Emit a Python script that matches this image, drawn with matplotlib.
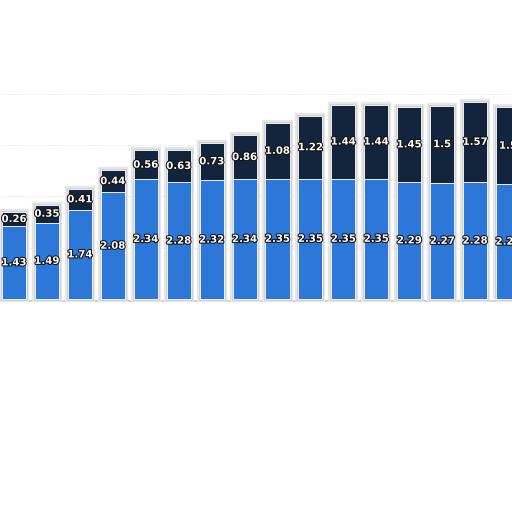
import matplotlib
matplotlib.use('Agg')
from matplotlib import pyplot as plt
import matplotlib.patheffects as pe

# values, left to right
lower = [1.43, 1.49, 1.74, 2.08, 2.34, 2.28, 2.32, 2.34, 2.35, 2.35,
         2.35, 2.35, 2.29, 2.27, 2.28, 2.24]
upper = [0.26, 0.35, 0.41, 0.44, 0.56, 0.63, 0.73, 0.86, 1.08, 1.22,
         1.44, 1.44, 1.45, 1.5, 1.57, 1.5]

blue = '#2d77d9'
navy = '#12253c'

fig = plt.figure(figsize=(5.12, 5.12), dpi=100)
ax = fig.add_axes([0, 0, 1, 1])

x = list(range(len(lower)))
totals = [a + b for a, b in zip(lower, upper)]
w = 0.73

# soft grey shadow around each bar (two layers)
ax.bar(x, totals, width=w, color='none', edgecolor='#e6e6e6', linewidth=4.5, zorder=1)
ax.bar(x, totals, width=w, color='none', edgecolor='#cfcfcf', linewidth=2.0, zorder=1)
ax.bar(x, lower, width=w, color=blue, edgecolor='white', linewidth=0.6, zorder=2)
ax.bar(x, upper, width=w, bottom=lower, color=navy, edgecolor='white', linewidth=0.6, zorder=2)

for v in [1, 2, 3, 4]:
    ax.axhline(v, color='#d4d4d4', linestyle=(0, (1, 2)), linewidth=0.6, zorder=0)
ax.axhline(-0.03, color='#c8c8c8', linewidth=1.2, zorder=0)

stroke = [pe.withStroke(linewidth=1.5, foreground='#111111')]
for i in x:
    ax.text(i, lower[i] / 2, str(lower[i]), ha='center', va='center', color='white',
            fontsize=7.3, fontweight='bold', path_effects=stroke, zorder=3)
    ax.text(i, lower[i] + upper[i] / 2, str(upper[i]), ha='center', va='center', color='white',
            fontsize=7.3, fontweight='bold', path_effects=stroke, zorder=3)

ax.set_xlim(-0.425, 15.12)
ax.set_ylim(-4.15, 5.83)
ax.axis('off')

fig.savefig('out.png', dpi=100)
